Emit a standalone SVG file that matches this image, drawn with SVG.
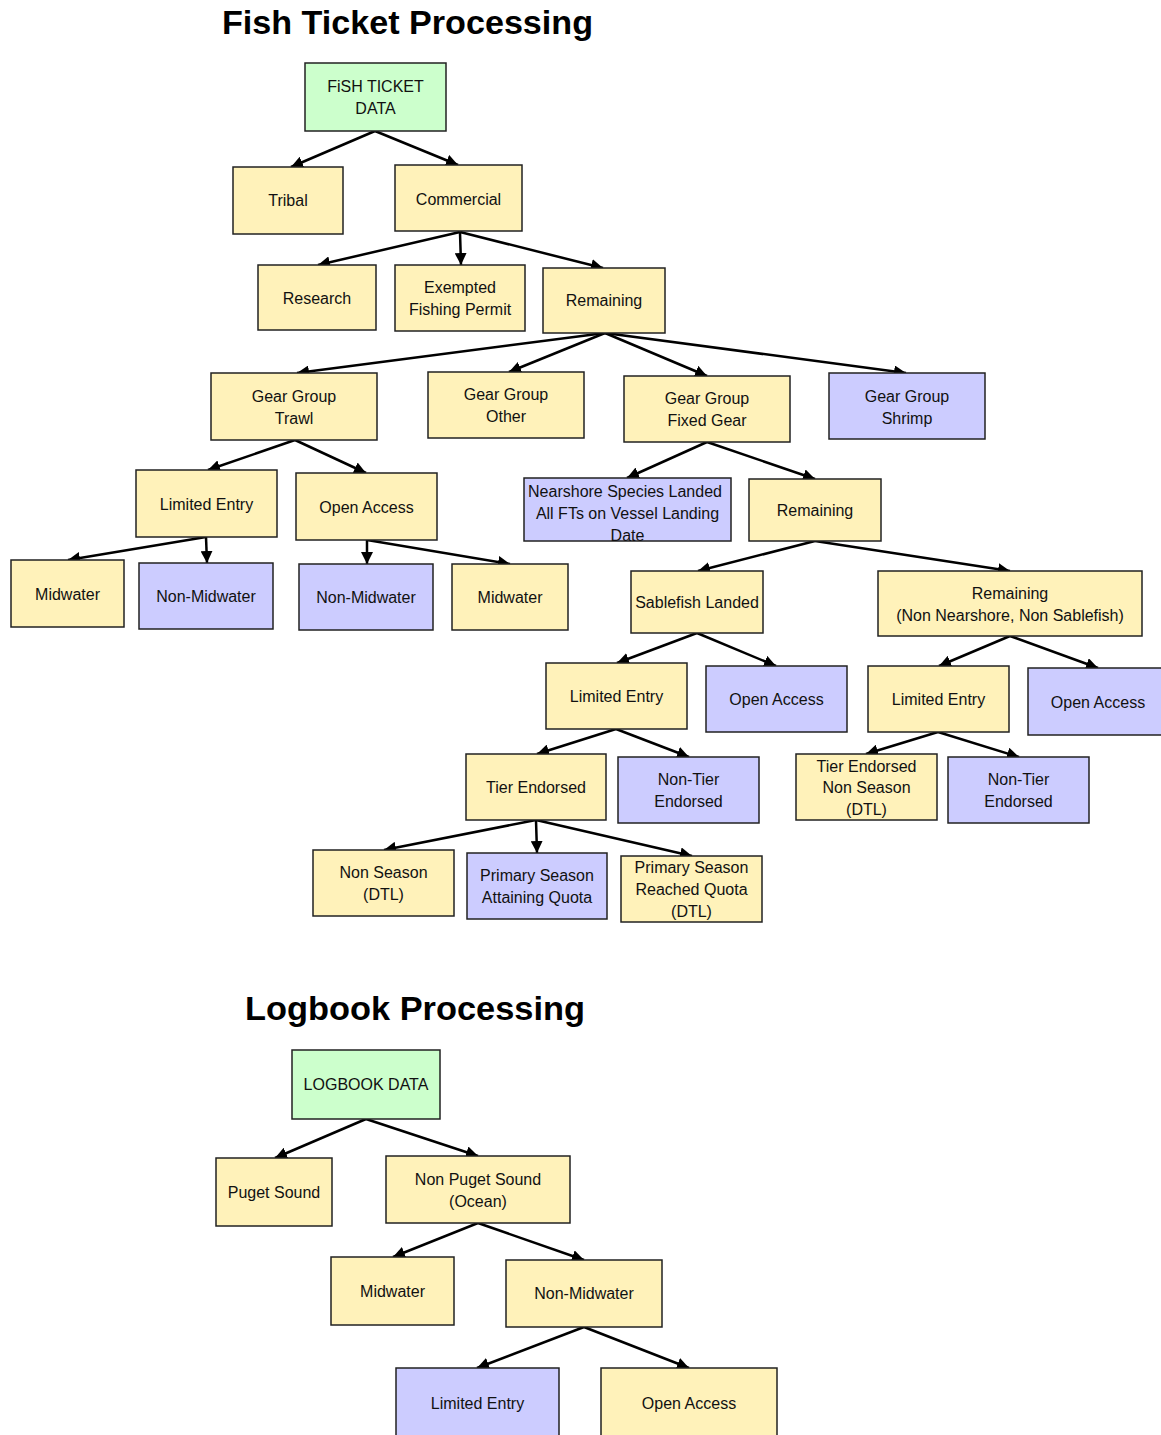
<svg xmlns="http://www.w3.org/2000/svg" width="1161" height="1435" viewBox="0 0 1161 1435">
<style>
.n rect{stroke:#222;stroke-width:1.5}
.y rect{fill:#FFF2BA}
.b rect{fill:#CCCCFF}
.g rect{fill:#CCFFCC}
text{font-family:"Liberation Sans",Arial,sans-serif;font-size:16px;fill:#111;text-anchor:middle}
.title{font-weight:bold;font-size:34px;text-anchor:start;fill:#000}
#connectors line{stroke:#000;stroke-width:2.5;marker-end:url(#ah)}
</style>
<defs>
<marker id="ah" markerUnits="userSpaceOnUse" markerWidth="14" markerHeight="12" refX="12" refY="6" orient="auto">
<path d="M0,0 L12,6 L0,12 Z" fill="#000"/>
</marker>
</defs>
<rect width="1161" height="1435" fill="#fff"/>
<text class="title" x="222" y="34" textLength="371" lengthAdjust="spacingAndGlyphs">Fish Ticket Processing</text>
<text class="title" x="245" y="1020" textLength="340" lengthAdjust="spacingAndGlyphs">Logbook Processing</text>

<g id="connectors">
<line x1="375" y1="131" x2="291" y2="167"/>
<line x1="375" y1="131" x2="458" y2="165"/>
<line x1="460" y1="232" x2="318" y2="265"/>
<line x1="460" y1="232" x2="461" y2="265"/>
<line x1="460" y1="232" x2="603" y2="268"/>
<line x1="605" y1="333" x2="297" y2="373"/>
<line x1="605" y1="333" x2="509" y2="372"/>
<line x1="605" y1="333" x2="707" y2="376"/>
<line x1="605" y1="333" x2="906" y2="373"/>
<line x1="295" y1="440" x2="208" y2="470"/>
<line x1="295" y1="440" x2="366" y2="473"/>
<line x1="206" y1="537" x2="68" y2="560"/>
<line x1="206" y1="537" x2="207" y2="563"/>
<line x1="367" y1="540" x2="367" y2="564"/>
<line x1="367" y1="540" x2="510" y2="564"/>
<line x1="707" y1="442" x2="627" y2="478"/>
<line x1="707" y1="442" x2="815" y2="479"/>
<line x1="815" y1="541" x2="698" y2="571"/>
<line x1="815" y1="541" x2="1010" y2="571"/>
<line x1="697" y1="633" x2="617" y2="663"/>
<line x1="697" y1="633" x2="776" y2="666"/>
<line x1="1010" y1="636" x2="939" y2="666"/>
<line x1="1010" y1="636" x2="1098" y2="668"/>
<line x1="616" y1="729" x2="537" y2="754"/>
<line x1="616" y1="729" x2="689" y2="757"/>
<line x1="938" y1="732" x2="866" y2="754"/>
<line x1="938" y1="732" x2="1019" y2="757"/>
<line x1="536" y1="820" x2="384" y2="850"/>
<line x1="536" y1="820" x2="537" y2="853"/>
<line x1="536" y1="820" x2="692" y2="856"/>
<line x1="366" y1="1119" x2="275" y2="1158"/>
<line x1="366" y1="1119" x2="478" y2="1156"/>
<line x1="478" y1="1223" x2="393" y2="1257"/>
<line x1="478" y1="1223" x2="584" y2="1260"/>
<line x1="584" y1="1327" x2="477" y2="1368"/>
<line x1="584" y1="1327" x2="689" y2="1368"/>
</g>

<g id="fish-ticket-data" class="n g"><rect x="305" y="63" width="141" height="68"/><text x="375.5" y="91.5">FiSH TICKET</text><text x="375.5" y="113.5">DATA</text></g>
<g id="tribal" class="n y"><rect x="233" y="167" width="110" height="67"/><text x="288" y="206">Tribal</text></g>
<g id="commercial" class="n y"><rect x="395" y="165" width="127" height="66"/><text x="458.5" y="204.5">Commercial</text></g>
<g id="research" class="n y"><rect x="258" y="265" width="118" height="65"/><text x="317" y="303.5">Research</text></g>
<g id="efp" class="n y"><rect x="395" y="265" width="130" height="66"/><text x="460" y="292.5">Exempted</text><text x="460" y="314.5">Fishing Permit</text></g>
<g id="remaining1" class="n y"><rect x="543" y="268" width="122" height="65"/><text x="604" y="306">Remaining</text></g>
<g id="gg-trawl" class="n y"><rect x="211" y="373" width="166" height="67"/><text x="294" y="401.5">Gear Group</text><text x="294" y="423.5">Trawl</text></g>
<g id="gg-other" class="n y"><rect x="428" y="372" width="156" height="66"/><text x="506" y="399.5">Gear Group</text><text x="506" y="421.5">Other</text></g>
<g id="gg-fixed" class="n y"><rect x="624" y="376" width="166" height="66"/><text x="707" y="403.5">Gear Group</text><text x="707" y="425.5">Fixed Gear</text></g>
<g id="gg-shrimp" class="n b"><rect x="829" y="373" width="156" height="66"/><text x="907" y="401.5">Gear Group</text><text x="907" y="423.5">Shrimp</text></g>
<g id="trawl-le" class="n y"><rect x="136" y="470" width="141" height="67"/><text x="206.5" y="509.5">Limited Entry</text></g>
<g id="trawl-oa" class="n y"><rect x="296" y="473" width="141" height="67"/><text x="366.5" y="512.5">Open Access</text></g>
<g id="le-midwater" class="n y"><rect x="11" y="560" width="113" height="67"/><text x="67.5" y="599.5">Midwater</text></g>
<g id="le-nonmidwater" class="n b"><rect x="139" y="563" width="134" height="66"/><text x="206" y="602">Non-Midwater</text></g>
<g id="oa-nonmidwater" class="n b"><rect x="299" y="564" width="134" height="66"/><text x="366" y="603">Non-Midwater</text></g>
<g id="oa-midwater" class="n y"><rect x="452" y="564" width="116" height="66"/><text x="510" y="603">Midwater</text></g>
<g id="nearshore" class="n b"><rect x="524" y="478" width="207" height="63"/><text x="625" y="496.5">Nearshore Species Landed</text><text x="627.5" y="518.5">All FTs on Vessel Landing</text><text x="627.5" y="540.5">Date</text></g>
<g id="remaining2" class="n y"><rect x="749" y="479" width="132" height="62"/><text x="815" y="515.5">Remaining</text></g>
<g id="sablefish" class="n y"><rect x="631" y="571" width="132" height="62"/><text x="697" y="607.5">Sablefish Landed</text></g>
<g id="remaining3" class="n y"><rect x="878" y="571" width="264" height="65"/><text x="1010" y="598.5">Remaining</text><text x="1010" y="620.5">(Non Nearshore, Non Sablefish)</text></g>
<g id="sab-le" class="n y"><rect x="546" y="663" width="141" height="66"/><text x="616.5" y="701.5">Limited Entry</text></g>
<g id="sab-oa" class="n b"><rect x="706" y="666" width="141" height="66"/><text x="776.5" y="704.5">Open Access</text></g>
<g id="rem-le" class="n y"><rect x="868" y="666" width="141" height="66"/><text x="938.5" y="704.5">Limited Entry</text></g>
<g id="rem-oa" class="n b"><rect x="1028" y="668" width="134" height="67"/><text x="1098" y="707.5">Open Access</text></g>
<g id="tier" class="n y"><rect x="466" y="754" width="140" height="66"/><text x="536" y="792.5">Tier Endorsed</text></g>
<g id="nontier1" class="n b"><rect x="618" y="757" width="141" height="66"/><text x="688.5" y="784.5">Non-Tier</text><text x="688.5" y="806.5">Endorsed</text></g>
<g id="tier-nonseason" class="n y"><rect x="796" y="754" width="141" height="66"/><text x="866.5" y="771.5">Tier Endorsed</text><text x="866.5" y="792.5">Non Season</text><text x="866.5" y="814.5">(DTL)</text></g>
<g id="nontier2" class="n b"><rect x="948" y="757" width="141" height="66"/><text x="1018.5" y="784.5">Non-Tier</text><text x="1018.5" y="806.5">Endorsed</text></g>
<g id="nonseason" class="n y"><rect x="313" y="850" width="141" height="66"/><text x="383.5" y="877.5">Non Season</text><text x="383.5" y="899.5">(DTL)</text></g>
<g id="primary-attaining" class="n b"><rect x="467" y="853" width="140" height="66"/><text x="537" y="880.5">Primary Season</text><text x="537" y="902.5">Attaining Quota</text></g>
<g id="primary-reached" class="n y"><rect x="621" y="856" width="141" height="66"/><text x="691.5" y="872.5">Primary Season</text><text x="691.5" y="894.5">Reached Quota</text><text x="691.5" y="916.5">(DTL)</text></g>

<g id="logbook-data" class="n g"><rect x="292" y="1050" width="148" height="69"/><text x="366" y="1090">LOGBOOK DATA</text></g>
<g id="puget" class="n y"><rect x="216" y="1158" width="116" height="68"/><text x="274" y="1197.5">Puget Sound</text></g>
<g id="nonpuget" class="n y"><rect x="386" y="1156" width="184" height="67"/><text x="478" y="1184.5">Non Puget Sound</text><text x="478" y="1206.5">(Ocean)</text></g>
<g id="lb-midwater" class="n y"><rect x="331" y="1257" width="123" height="68"/><text x="392.5" y="1297">Midwater</text></g>
<g id="lb-nonmidwater" class="n y"><rect x="506" y="1260" width="156" height="67"/><text x="584" y="1299">Non-Midwater</text></g>
<g id="lb-le" class="n b"><rect x="396" y="1368" width="163" height="70"/><text x="477.5" y="1408.5">Limited Entry</text></g>
<g id="lb-oa" class="n y"><rect x="601" y="1368" width="176" height="70"/><text x="689" y="1408.5">Open Access</text></g>
</svg>
